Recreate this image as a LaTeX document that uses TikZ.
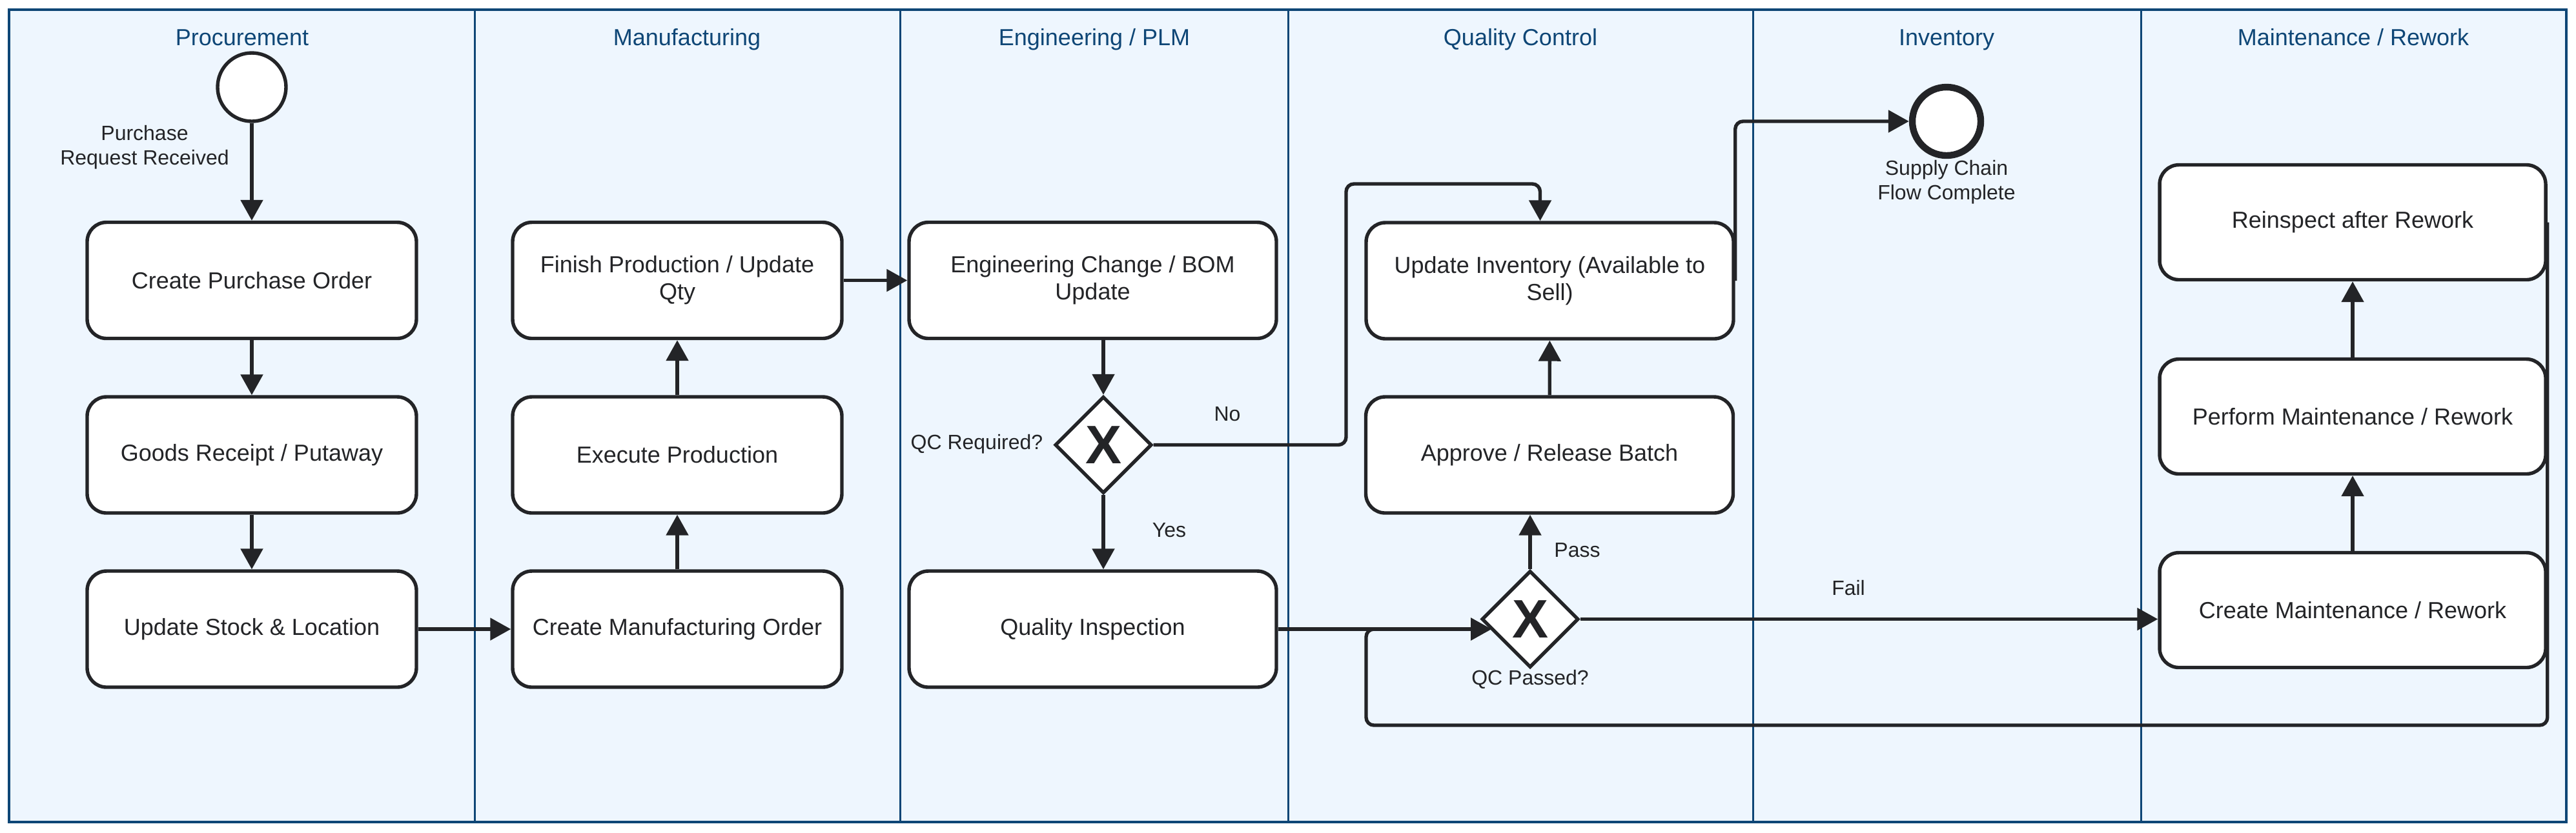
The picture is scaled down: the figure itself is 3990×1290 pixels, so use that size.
\documentclass[tikz,border=0pt]{standalone}
\usepackage{fontspec}
\setmainfont{Liberation Sans}
\usetikzlibrary{arrows.meta,shapes.geometric}
\definecolor{lanefill}{HTML}{EEF6FE}
\definecolor{laneline}{HTML}{0E4676}
\definecolor{ink}{HTML}{232427}
\begin{document}
\begin{tikzpicture}[x=0.25pt,y=-0.25pt,
  task/.style={draw=ink, fill=white, line width=1.35pt, rounded corners=7.5pt, align=center,
    font=\fontsize{9}{10.5}\selectfont, text=ink, inner sep=0pt, minimum height=45pt},
  procbox/.style={task, minimum width=127.5pt},
  engbox/.style={task, minimum width=142.25pt},
  maintbox/.style={task, minimum width=149.5pt, minimum height=44.5pt},
  gateway/.style={diamond, draw=ink, fill=white, line width=1.35pt, minimum width=37.5pt,
    minimum height=37.5pt, inner sep=0pt, text=ink, font=\fontsize{21}{21}\selectfont\bfseries},
  lanehead/.style={text=laneline, font=\fontsize{9}{10.5}\selectfont, anchor=base},
  lbl/.style={text=ink, font=\fontsize{8}{9.6}\selectfont, align=center, inner sep=0pt},
  flow/.style={draw=ink, line width=1.35pt, -{Triangle[length=8pt,width=8.5pt]}},
]
\useasboundingbox (0,0) rectangle (3990,1290);
% pool and lanes
\draw[laneline, line width=1pt, fill=lanefill] (14,15) rectangle (3975,1274);
\foreach \xx in {735,1394,1995,2715,3316}
  \draw[laneline, line width=0.75pt] (\xx,15) -- (\xx,1274);
\node[lanehead] (h1) at (375,70) {Procurement};
\node[lanehead] (h2) at (1064,70) {Manufacturing};
\node[lanehead] (h3) at (1695,70) {Engineering / PLM};
\node[lanehead] (h4) at (2355,70) {Quality Control};
\node[lanehead] (h5) at (3015,70) {Inventory};
\node[lanehead] (h6) at (3645,70) {Maintenance / Rework};

% nodes
\node[circle, draw=ink, fill=white, line width=1.35pt, minimum size=26.5pt, inner sep=0pt] (start) at (390,135) {};
\node[lbl] (startlbl) at (224,228) {Purchase\\Request Received};
\node[procbox] (po) at (390,434.5) {Create Purchase Order};
\node[procbox] (gr) at (390,705) {Goods Receipt / Putaway};
\node[procbox] (us) at (390,975) {Update Stock \& Location};
\node[procbox] (mo) at (1049,975) {Create Manufacturing Order};
\node[procbox] (ep) at (1049,705) {Execute Production};
\node[procbox] (fp) at (1049,434.5) {Finish Production / Update\\Qty};
\node[engbox] (ec) at (1692.5,434.5) {Engineering Change / BOM\\Update};
\node[gateway] (gw1) at (1709,689.5) {X};
\node[lbl, anchor=east] (gw1lbl) at (1616,688) {QC Required?};
\node[engbox] (qi) at (1692.5,975) {Quality Inspection};
\node[gateway] (gw2) at (2370,959.5) {X};
\node[lbl] (gw2lbl) at (2370,1053) {QC Passed?};
\node[engbox] (ab) at (2400,705) {Approve / Release Batch};
\node[engbox] (inv) at (2400.5,435) {Update Inventory (Available to\\Sell)};
\node[circle, draw=ink, fill=white, line width=2.6pt, minimum size=26.5pt, inner sep=0pt] (end) at (3015,188) {};
\node[lbl] (endlbl) at (3015,282) {Supply Chain\\Flow Complete};
\node[maintbox] (cm) at (3644,945.5) {Create Maintenance / Rework};
\node[maintbox] (pm) at (3644,645.5) {Perform Maintenance / Rework};
\node[maintbox] (ri) at (3644,344.5) {Reinspect after Rework};

% edge labels
\node[lbl] (nolbl) at (1901,642) {No};
\node[lbl] (yeslbl) at (1811,822) {Yes};
\node[lbl] (passlbl) at (2443,853) {Pass};
\node[lbl] (faillbl) at (2863,911) {Fail};

% helper coordinates
\coordinate (nobend) at (2085,285);
\coordinate (gw2in) at (2310,975);
\coordinate (loopbend) at (2116,1124);

% connectors
\draw[flow] (start) -- (po);
\draw[flow] (po) -- (gr);
\draw[flow] (gr) -- (us);
\draw[flow] (us) -- (mo);
\draw[flow] (mo) -- (ep);
\draw[flow] (ep) -- (fp);
\draw[flow] (fp) -- (ec);
\draw[flow] (ec.south -| gw1) -- (gw1.north);
\draw[flow] (gw1.south) -- (gw1.south |- qi.north);
\draw[flow, rounded corners=3pt] (gw1.east) -| (nobend) -| ([xshift=-3.75pt]inv.north);
\draw[flow] (qi.east) -- (gw2in);
\draw[flow] (gw2.north) -- (gw2.north |- ab.south);
\draw[flow] (ab) -- (inv);
\draw[flow, rounded corners=3pt] (inv.east) |- (end.west);
\draw[flow] (gw2.east) -- (gw2.east -| cm.west);
\draw[flow] (cm) -- (pm);
\draw[flow] (pm) -- (ri);
\draw[flow, rounded corners=3pt] (ri.east) |- (loopbend) |- (gw2in);
\end{tikzpicture}
\end{document}
